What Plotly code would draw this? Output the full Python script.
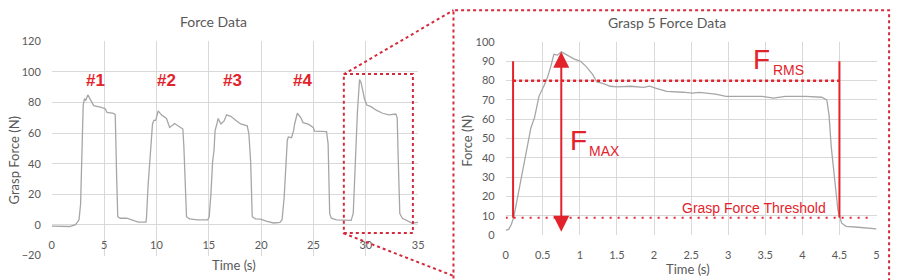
import plotly.graph_objects as go

# ---------------- data ----------------
# Full recording (left chart)
time_all = [0, 0.6, 1.2, 1.7, 2.27, 2.6, 2.75, 2.9, 3.0, 3.12, 3.25, 3.44, 3.7, 4.0, 4.64, 5.1,
            5.27, 5.9, 6.06, 6.12, 6.2, 6.3, 6.53, 7.16, 7.8, 8.27, 9.0, 9.05, 9.2, 9.43, 9.62,
            9.75, 9.93, 10.16, 10.47, 10.95, 11.26, 11.73, 12.2, 12.52, 12.62, 12.74, 12.87,
            13.15, 13.94, 14.9, 15.04, 15.2, 15.36, 15.5, 15.6, 15.77, 15.9, 16.15, 16.46, 16.7,
            17.1, 17.57, 18.04, 18.67, 18.83, 19.0, 19.15, 19.46, 19.93, 20.57, 21.2, 21.8, 22.0,
            22.2, 22.4, 22.5, 22.6, 22.9, 23.1, 23.2, 23.46, 23.8, 24.0, 24.5, 24.98, 25.1, 26.25,
            26.4, 26.55, 26.7, 27.2, 28.6, 28.8, 29.0, 29.2, 29.4, 29.55, 29.87, 30.1, 30.5, 31.0,
            31.6, 32.2, 32.87, 33.0, 33.1, 33.25, 33.5, 34.1, 34.4, 35.0]
force_all = [-0.8, -1.0, -0.8, -1.0, 0.2, 3.4, 13.7, 61.7, 78.4, 82.5, 81.5, 85, 81.5, 78, 77, 76,
             73.6, 73, 72, 59.6, 30, 5.4, 4.4, 4.4, 2.9, 1.9, 1.9, 5.4, 26, 51, 66,
             68.3, 68.4, 74.6, 72, 69.6, 63.7, 66.3, 64.2, 62.7, 51, 24, 5.4,
             4, 3.4, 3.4, 5.4, 20, 41, 49, 61.7, 66, 69.6, 66, 68, 72,
             71, 68.4, 66, 64.8, 59.6, 41, 5.4, 4, 3.8, 2.3, 1.3, 1.7, 3.4,
             18, 38.8, 55.4, 57.5, 57, 61.7, 66, 73, 70, 66.9, 65.9, 63.8, 61.3, 61,
             53, 7.5, 4.4, 3.4, 3.0, 7.5, 43, 74, 95, 93, 82.5, 78.4, 77.3, 75,
             73, 72, 72.5, 70, 43, 7.5, 4.4, 2.3, 1.3, 1.7]

# Grasp 5 (right chart)
time_g5 = [0, 0.04, 0.075, 0.11, 0.16, 0.23, 0.3, 0.34, 0.39, 0.45, 0.52, 0.565, 0.61, 0.65, 0.7,
           0.75, 0.83, 0.92, 1.01, 1.08, 1.17, 1.23, 1.32, 1.41, 1.5, 1.68, 1.86, 1.94, 2.03, 2.17,
           2.39, 2.52, 2.61, 2.83, 2.97, 3.23, 3.46, 3.61, 3.77, 4.04, 4.26, 4.33, 4.36, 4.39,
           4.44, 4.48, 4.53, 4.59, 4.75, 4.93, 5.0]
force_g5 = [2.5, 3, 5.4, 9.5, 19.4, 34, 49, 55.5, 61, 72, 77.6, 81.8, 87.5, 93.6, 93.2,
            94.9, 93.2, 91.3, 90, 87.5, 83.4, 79.3, 78.5, 77.1, 76.8, 77.1, 76.5, 77.1, 76, 74.4,
            74, 73.5, 73.9, 73, 71.9, 71.9, 71.9, 71, 71.9, 71.9, 71.4, 70, 62, 45.6,
            29.2, 12.8, 6.2, 4.6, 4.1, 3.7, 3.3]

grasp_labels = ["#1", "#2", "#3", "#4"]
grasp_label_t = [4.16, 10.95, 17.26, 24.0]
grasp_label_f = 94.6

zoom_box_t = [27.9, 34.5]
zoom_box_f = [-5.2, 98.7]

threshold = 9
f_rms_level = 80
window_t = [0.1, 4.5]
window_top = 90
f_max_t = 0.75
f_max_range = [1, 95]

# ---------------- styles ----------------
RED = "#e3232c"
BOXRED = "#d42a3c"
GREY_TXT = "#595959"
GRID = "#d9d9d9"
LINE = "#a6a6a6"
FONT = "Lato"
ARIAL = "Liberation Sans, Arial"

W, H = 905, 280
def px(x):
    return x / W
def py(y):
    return 1 - y / H

fig = go.Figure()
fig.add_trace(go.Scatter(x=time_all, y=force_all, mode="lines",
                         line=dict(color=LINE, width=1.3), xaxis="x", yaxis="y",
                         showlegend=False, hoverinfo="skip"))
fig.add_trace(go.Scatter(x=time_g5, y=force_g5, mode="lines",
                         line=dict(color=LINE, width=1.3), xaxis="x2", yaxis="y2",
                         showlegend=False, hoverinfo="skip"))

tickfont = dict(family=FONT, size=11, color=GREY_TXT)
fig.update_layout(
    width=W, height=H,
    margin=dict(l=0, r=0, t=0, b=0),
    paper_bgcolor="white", plot_bgcolor="white",
    xaxis=dict(domain=[px(49.3), px(419.3)], range=[0, 35], dtick=5, tick0=0,
               showgrid=True, gridcolor=GRID, gridwidth=1, zeroline=False, showline=False,
               anchor="free", position=py(237), tickfont=tickfont,
               ticklabelstandoff=4, fixedrange=True),
    yaxis=dict(domain=[py(260.7), py(36)], range=[-20, 120], dtick=20, tick0=0,
               showgrid=True, gridcolor=GRID, gridwidth=1, zeroline=False, showline=False,
               anchor="x", tickfont=tickfont, ticklabelstandoff=10, fixedrange=True),
    xaxis2=dict(domain=[px(507.7), px(882.3)], range=[0, 5], dtick=0.5, tick0=0,
                showgrid=True, gridcolor=GRID, gridwidth=1, zeroline=False, showline=False,
                anchor="y2", tickfont=tickfont, ticklabelstandoff=12, fixedrange=True),
    yaxis2=dict(domain=[py(239.3), py(36.7)], range=[0, 100], dtick=10, tick0=0,
                showgrid=True, gridcolor=GRID, gridwidth=1, zeroline=False, showline=False,
                anchor="x2", tickfont=tickfont, ticklabelstandoff=10, fixedrange=True),
)

shapes = []
# zoom box on the left chart
shapes.append(dict(type="rect", xref="x", yref="y", x0=zoom_box_t[0], x1=zoom_box_t[1],
                   y0=zoom_box_f[0], y1=zoom_box_f[1],
                   line=dict(color=BOXRED, width=2, dash="dot")))
# connecting lines and big box (paper)
shapes.append(dict(type="line", xref="paper", yref="paper", x0=px(344), y0=py(70.7),
                   x1=px(455), y1=py(3.3), line=dict(color=BOXRED, width=2, dash="dot")))
shapes.append(dict(type="line", xref="paper", yref="paper", x0=px(344), y0=py(237.3),
                   x1=px(455), y1=py(282), line=dict(color=BOXRED, width=2, dash="dot")))
shapes.append(dict(type="rect", xref="paper", yref="paper", x0=px(455), x1=px(895),
                   y0=py(290), y1=py(3.3), line=dict(color=BOXRED, width=2, dash="dot")))
# right chart markers
shapes.append(dict(type="line", xref="x2", yref="y2", x0=window_t[0], x1=window_t[0],
                   y0=threshold, y1=window_top, line=dict(color=RED, width=2)))
shapes.append(dict(type="line", xref="x2", yref="y2", x0=window_t[1], x1=window_t[1],
                   y0=threshold, y1=window_top, line=dict(color=RED, width=2)))
shapes.append(dict(type="line", xref="x2", yref="y2", x0=window_t[0], x1=window_t[1],
                   y0=f_rms_level, y1=f_rms_level, line=dict(color=RED, width=2.5, dash="dot")))
shapes.append(dict(type="line", xref="x2", yref="y2", x0=0, x1=4.95,
                   y0=threshold, y1=threshold, line=dict(color=RED, width=2, dash="2px 6px")))
fig.update_layout(shapes=shapes)

ann = []
def txt(text, x, y, size, color=GREY_TXT, family=FONT, xref="paper", yref="paper",
        xanchor="center", yanchor="middle", angle=0):
    ann.append(dict(text=text, x=x, y=y, xref=xref, yref=yref, showarrow=False,
                    xanchor=xanchor, yanchor=yanchor, textangle=angle,
                    font=dict(family=family, size=size, color=color)))

txt("Force Data", px(213), py(15), 14)
txt("Time (s)", px(233), py(271), 13)
txt("Grasp Force (N)", px(11), py(160), 13, angle=-90)
txt("Grasp 5 Force Data", px(671), py(16), 14)
txt("Time (s)", px(691.7), py(275), 13)
txt("Force (N)", px(468), py(140), 13, angle=-90)

for lab, t in zip(grasp_labels, grasp_label_t):
    txt("<b>" + lab + "</b>", t, grasp_label_f, 17, color=RED, family=ARIAL, xref="x", yref="y")

txt("F", 0.976, 49, 28, color=RED, family=ARIAL, xref="x2", yref="y2")
txt("MAX", 1.09, 43.5, 14, color=RED, family=ARIAL, xref="x2", yref="y2", xanchor="left")
txt("F", 3.45, 90.8, 28, color=RED, family=ARIAL, xref="x2", yref="y2")
txt("RMS", 3.58, 85.5, 14, color=RED, family=ARIAL, xref="x2", yref="y2", xanchor="left")
txt("Grasp Force Threshold", 2.356, 14.1, 14, color=RED, family=ARIAL, xref="x2", yref="y2",
    xanchor="left")

# double-headed arrow for F_MAX
ann.append(dict(x=f_max_t, y=f_max_range[1], ax=f_max_t, ay=f_max_range[0],
                xref="x2", yref="y2", axref="x2", ayref="y2", text="", showarrow=True,
                arrowhead=2, arrowside="end+start", arrowsize=1.6, arrowwidth=2,
                arrowcolor=RED))
fig.update_layout(annotations=ann)

fig.write_html("out.html")
